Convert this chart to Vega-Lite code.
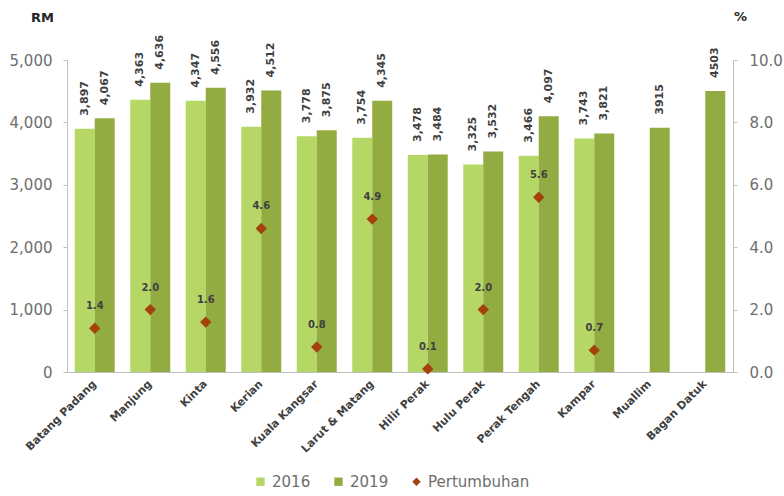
{
  "$schema": "https://vega.github.io/schema/vega-lite/v6.json",
  "width": 666,
  "height": 312,
  "autosize": {"type": "none"},
  "padding": {"left": 67, "top": 60, "right": 51, "bottom": 124},
  "background": "white",
  "config": {
    "view": {"stroke": null},
    "font": "DejaVu Sans",
    "axis": {"grid": false, "domainColor": "#bfbfbf", "tickColor": "#bfbfbf"}
  },
  "datasets": {
    "bars": [
      {"district": "Batang Padang", "series": "2016", "value": 3897, "label": "3,897"},
      {"district": "Batang Padang", "series": "2019", "value": 4067, "label": "4,067"},
      {"district": "Manjung", "series": "2016", "value": 4363, "label": "4,363"},
      {"district": "Manjung", "series": "2019", "value": 4636, "label": "4,636"},
      {"district": "Kinta", "series": "2016", "value": 4347, "label": "4,347"},
      {"district": "Kinta", "series": "2019", "value": 4556, "label": "4,556"},
      {"district": "Kerian", "series": "2016", "value": 3932, "label": "3,932"},
      {"district": "Kerian", "series": "2019", "value": 4512, "label": "4,512"},
      {"district": "Kuala Kangsar", "series": "2016", "value": 3778, "label": "3,778"},
      {"district": "Kuala Kangsar", "series": "2019", "value": 3875, "label": "3,875"},
      {"district": "Larut & Matang", "series": "2016", "value": 3754, "label": "3,754"},
      {"district": "Larut & Matang", "series": "2019", "value": 4345, "label": "4,345"},
      {"district": "Hilir Perak", "series": "2016", "value": 3478, "label": "3,478"},
      {"district": "Hilir Perak", "series": "2019", "value": 3484, "label": "3,484"},
      {"district": "Hulu Perak", "series": "2016", "value": 3325, "label": "3,325"},
      {"district": "Hulu Perak", "series": "2019", "value": 3532, "label": "3,532"},
      {"district": "Perak Tengah", "series": "2016", "value": 3466, "label": "3,466"},
      {"district": "Perak Tengah", "series": "2019", "value": 4097, "label": "4,097"},
      {"district": "Kampar", "series": "2016", "value": 3743, "label": "3,743"},
      {"district": "Kampar", "series": "2019", "value": 3821, "label": "3,821"},
      {"district": "Muallim", "series": "2019", "value": 3915, "label": "3915"},
      {"district": "Bagan Datuk", "series": "2019", "value": 4503, "label": "4503"}
    ],
    "growth": [
      {"district": "Batang Padang", "series": "Pertumbuhan", "growth": 1.4},
      {"district": "Manjung", "series": "Pertumbuhan", "growth": 2.0},
      {"district": "Kinta", "series": "Pertumbuhan", "growth": 1.6},
      {"district": "Kerian", "series": "Pertumbuhan", "growth": 4.6},
      {"district": "Kuala Kangsar", "series": "Pertumbuhan", "growth": 0.8},
      {"district": "Larut & Matang", "series": "Pertumbuhan", "growth": 4.9},
      {"district": "Hilir Perak", "series": "Pertumbuhan", "growth": 0.1},
      {"district": "Hulu Perak", "series": "Pertumbuhan", "growth": 2.0},
      {"district": "Perak Tengah", "series": "Pertumbuhan", "growth": 5.6},
      {"district": "Kampar", "series": "Pertumbuhan", "growth": 0.7}
    ]
  },
  "encoding": {
    "x": {
      "field": "district",
      "type": "nominal",
      "sort": null,
      "scale": {
        "domain": ["Batang Padang", "Manjung", "Kinta", "Kerian", "Kuala Kangsar", "Larut & Matang", "Hilir Perak", "Hulu Perak", "Perak Tengah", "Kampar", "Muallim", "Bagan Datuk"],
        "paddingInner": 0.28,
        "paddingOuter": 0.14
      },
      "axis": {
        "title": null,
        "ticks": false,
        "labelAngle": -45,
        "labelAlign": "right",
        "labelBaseline": "middle",
        "labelPadding": 10,
        "labelFontSize": 11,
        "labelFontWeight": "bold",
        "labelColor": "#404040",
        "domainColor": "#bfbfbf"
      }
    }
  },
  "layer": [
    {
      "data": {"name": "bars"},
      "encoding": {
        "xOffset": {"field": "series", "type": "nominal", "scale": {"domain": ["2016", "2019"], "paddingInner": 0, "paddingOuter": 0}},
        "y": {
          "field": "value",
          "type": "quantitative",
          "scale": {"domain": [0, 5000], "nice": false},
          "axis": {
            "orient": "left",
            "values": [0, 1000, 2000, 3000, 4000, 5000],
            "format": ",.0f",
            "tickSize": 4,
            "labelPadding": 11,
            "labelFontSize": 15,
            "labelColor": "#6e6e6e",
            "title": "RM",
            "titleAngle": 0,
            "titleX": -25,
            "titleY": -43,
            "titleAlign": "center",
            "titleBaseline": "middle",
            "titleFontSize": 13,
            "titleFontWeight": "bold",
            "titleColor": "#262626"
          }
        }
      },
      "layer": [
        {
          "mark": {"type": "bar"},
          "encoding": {
            "color": {
              "field": "series",
              "type": "nominal",
              "scale": {"domain": ["2016", "2019", "Pertumbuhan"], "range": ["#b5d766", "#93ac42", "#a4410f"]},
              "legend": {
                "title": null,
                "orient": "none",
                "direction": "horizontal",
                "legendX": 186,
                "legendY": 414,
                "padding": 0,
                "labelFontSize": 15,
                "labelColor": "#6e6e6e",
                "symbolSize": 70,
                "symbolStrokeWidth": 0,
                "labelOffset": 4,
                "columnPadding": 20
              }
            }
          }
        },
        {
          "mark": {"type": "text", "angle": 270, "align": "left", "baseline": "middle", "dx": 13, "fontSize": 11, "fontWeight": "bold", "color": "#404040"},
          "encoding": {"text": {"field": "label", "type": "nominal"}}
        }
      ]
    },
    {
      "data": {"name": "growth"},
      "encoding": {
        "y": {
          "field": "growth",
          "type": "quantitative",
          "scale": {"domain": [0, 10], "nice": false},
          "axis": {
            "orient": "right",
            "values": [0, 2, 4, 6, 8, 10],
            "format": ".1f",
            "tickSize": 4,
            "labelPadding": 12,
            "labelFontSize": 15,
            "labelColor": "#6e6e6e",
            "title": "%",
            "titleAngle": 0,
            "titleX": 7,
            "titleY": -44,
            "titleAlign": "center",
            "titleBaseline": "middle",
            "titleFontSize": 13,
            "titleFontWeight": "bold",
            "titleColor": "#262626"
          }
        }
      },
      "layer": [
        {
          "mark": {"type": "point", "filled": true, "size": 130, "opacity": 1},
          "encoding": {
            "color": {"field": "series", "type": "nominal"},
            "shape": {
              "field": "series",
              "type": "nominal",
              "scale": {"domain": ["2016", "2019", "Pertumbuhan"], "range": ["square", "square", "diamond"]},
              "legend": {"title": null}
            }
          }
        },
        {
          "mark": {"type": "text", "align": "center", "baseline": "middle", "dy": -22, "fontSize": 10, "fontWeight": "bold", "color": "#404040"},
          "encoding": {"text": {"field": "growth", "type": "quantitative", "format": ".1f"}}
        }
      ]
    }
  ],
  "resolve": {"scale": {"y": "independent"}}
}
